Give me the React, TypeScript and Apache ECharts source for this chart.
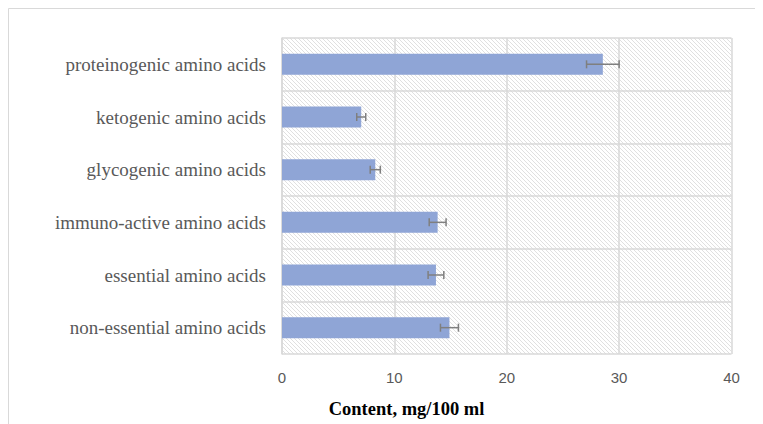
import React, { useEffect, useRef } from "react";
import * as echarts from "echarts";

const categories = [
  "non-essential amino acids",
  "essential amino acids",
  "immuno-active amino acids",
  "glycogenic amino acids",
  "ketogenic amino acids",
  "proteinogenic amino acids",
];
const values = [14.9, 13.7, 13.85, 8.3, 7.05, 28.55];
const errors = [0.8, 0.7, 0.75, 0.45, 0.4, 1.45];
const xTicks = { min: 0, max: 40, interval: 10 };
const axisTitle = "Content, mg/100 ml";

function makeHatch() {
  const c = document.createElement("canvas");
  c.width = 8;
  c.height = 8;
  const ctx = c.getContext("2d")!;
  ctx.fillStyle = "#ffffff";
  ctx.fillRect(0, 0, 8, 8);
  ctx.strokeStyle = "#e0e0e0";
  ctx.lineWidth = 1;
  for (const off of [-8, -4, 0, 4, 8]) {
    ctx.beginPath();
    ctx.moveTo(off, 0);
    ctx.lineTo(off + 8, 8);
    ctx.stroke();
  }
  return c;
}

export default function App() {
  const ref = useRef<HTMLDivElement>(null);
  useEffect(() => {
    document.documentElement.style.overflow = "hidden";
    const chart = echarts.init(ref.current!, null, { renderer: "svg" });
    const hatch = makeHatch();
    const errData = values.map((v, i) => [v, i, errors[i]]);
    chart.setOption({
      animation: false,
      backgroundColor: "#ffffff",
      grid: {
        show: true,
        left: 274,
        right: 31.5,
        top: 30,
        bottom: 70,
        borderWidth: 0,
        backgroundColor: { image: hatch, repeat: "repeat", imageWidth: 8, imageHeight: 8 },
      },
      xAxis: {
        type: "value",
        min: xTicks.min,
        max: xTicks.max,
        interval: xTicks.interval,
        axisLine: { show: false },
        axisTick: { show: false },
        splitLine: { show: true, lineStyle: { color: "#d9d9d9", width: 1.5 } },
        axisLabel: {
          color: "#595959",
          fontFamily: "Liberation Sans",
          fontSize: 15,
          margin: 16,
        },
      },
      yAxis: {
        type: "category",
        data: categories,
        axisLine: { show: true, lineStyle: { color: "#d9d9d9", width: 1.5 } },
        axisTick: { show: false },
        splitLine: { show: true, lineStyle: { color: "#d9d9d9", width: 1.5 } },
        axisLabel: {
          color: "#595959",
          fontFamily: "Liberation Serif",
          fontSize: 19,
          margin: 16,
        },
      },
      graphic: [
        {
          type: "rect",
          shape: { x: 0.5, y: 0.5, width: 900, height: 600 },
          style: { fill: "none", stroke: "#d9d9d9", lineWidth: 1 },
          z: 100,
        },
        {
          type: "text",
          x: 398.5,
          y: 401,
          style: {
            text: axisTitle,
            fontFamily: "Liberation Serif",
            fontWeight: "bold",
            fontSize: 18.5,
            fill: "#000000",
            textAlign: "center",
            textVerticalAlign: "middle",
          },
        },
      ],
      series: [
        {
          type: "bar",
          data: values,
          barWidth: 21,
          itemStyle: { color: "#8FA5D6" },
          z: 2,
        },
        {
          type: "custom",
          data: errData,
          encode: { x: 0, y: 1 },
          z: 3,
          renderItem: (params: any, api: any) => {
            const v = api.value(0);
            const idx = api.value(1);
            const e = api.value(2);
            const p1 = api.coord([v - e, idx]);
            const p2 = api.coord([v + e, idx]);
            const h = 4;
            const style = { stroke: "#7f7f7f", lineWidth: 1.5 };
            return {
              type: "group",
              children: [
                { type: "line", shape: { x1: p1[0], y1: p1[1], x2: p2[0], y2: p2[1] }, style },
                { type: "line", shape: { x1: p1[0], y1: p1[1] - h, x2: p1[0], y2: p1[1] + h }, style },
                { type: "line", shape: { x1: p2[0], y1: p2[1] - h, x2: p2[0], y2: p2[1] + h }, style },
              ],
            };
          },
        },
      ],
    });
    return () => chart.dispose();
  }, []);
  return <div ref={ref} style={{ width: 755, height: 416 }} />;
}
